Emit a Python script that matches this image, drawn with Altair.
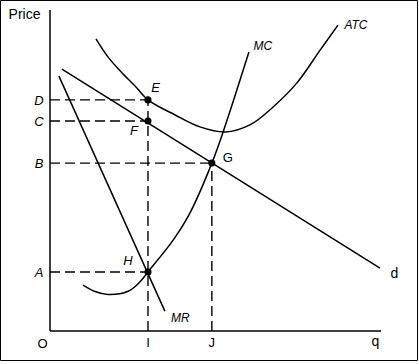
import altair as alt
import pandas as pd

# ---- data (quantity q on 0-100, price p on 0-100) ----
d_q = [3.6, 99.7]
d_p = [81.6, 19.6]
mr_q = [2.7, 34.7]
mr_p = [79.4, 6.2]
mc_q = [10.0, 13.6, 17.5, 23.6, 27.0, 29.6, 37.2, 42.3, 48.9, 52.3, 60.1]
mc_p = [14.3, 12.3, 11.4, 12.4, 15.1, 18.4, 28.3, 36.8, 52.3, 62.0, 86.9]
atc_q = [13.9, 17.5, 21.5, 25.7, 29.6, 37.8, 45.3, 52.9, 60.4, 67.4, 74.6, 81.6, 87.0]
atc_p = [91.0, 85.4, 80.7, 76.3, 72.0, 67.3, 63.6, 62.0, 64.2, 69.8, 77.3, 87.5, 95.3]

point_names = ["E", "F", "G", "H"]
point_q = [29.6, 29.6, 48.9, 29.6]
point_p = [72.0, 65.4, 52.3, 18.4]

price_names = ["D", "C", "B", "A"]
price_vals = [72.0, 65.4, 52.3, 18.4]
qty_names = ["I", "J"]
qty_vals = [29.6, 48.9]
q_max = 100
p_max = 100

FONT = "Liberation Sans"
xs = alt.Scale(domain=[0, q_max], nice=False, zero=False)
ys = alt.Scale(domain=[0, p_max], nice=False, zero=False)


def X(f="q"):
    return alt.X(f"{f}:Q", scale=xs, axis=None)


def Y(f="p"):
    return alt.Y(f"{f}:Q", scale=ys, axis=None)


def curve(qs, ps, interp="linear"):
    df = pd.DataFrame({"q": qs, "p": ps, "o": list(range(len(qs)))})
    return alt.Chart(df).mark_line(color="black", strokeWidth=1.5, interpolate=interp).encode(
        x=X(), y=Y(), order="o:Q")


def label(text, q, p, dx, dy, italic=False, size=13, align="center"):
    df = pd.DataFrame({"q": [q], "p": [p], "t": [text]})
    return alt.Chart(df).mark_text(
        font=FONT, fontSize=size, fontStyle="italic" if italic else "normal",
        align=align, baseline="alphabetic", dx=dx, dy=dy, color="black"
    ).encode(x=X(), y=Y(), text="t:N")


# axes
axes_df = pd.DataFrame({"q": [0, 0], "p": [0, 0], "q2": [0, q_max], "p2": [p_max, 0]})
axes = alt.Chart(axes_df).mark_rule(color="black", strokeWidth=1.5).encode(
    x=X(), y=Y(), x2="q2:Q", y2="p2:Q")

# dashed guide lines
seg_rows = []
for v, name in zip(price_vals, price_names):
    i = point_p.index(v)
    seg_rows.append({"q": 0, "p": v, "q2": point_q[i], "p2": v})
for v in qty_vals:
    top = max(pp for qq, pp in zip(point_q, point_p) if qq == v)
    seg_rows.append({"q": v, "p": 0, "q2": v, "p2": top})
dashes = alt.Chart(pd.DataFrame(seg_rows)).mark_rule(
    color="black", strokeWidth=1.4, strokeDash=[10, 5]).encode(
    x=X(), y=Y(), x2="q2:Q", y2="p2:Q")

dots = alt.Chart(pd.DataFrame({"q": point_q, "p": point_p})).mark_point(
    filled=True, color="black", size=50, opacity=1).encode(x=X(), y=Y())

# frame
frame = alt.Chart(pd.DataFrame({"a": [0]})).mark_rect(
    fill=None, stroke="black", strokeWidth=1).encode(
    x=alt.value(-49.5), x2=alt.value(367.5), y=alt.value(-9.5), y2=alt.value(350.5))

labels = [
    label("Price", 0, p_max, -25.5, 9, size=14),
    label("O", 0, 0, -7.5, 17),
    label("q", 98.3, 0, 0, 15, size=14),
]
for n, v in zip(price_names, price_vals):
    labels.append(label(n, 0, v, -11, 5, italic=True))
for n, v in zip(qty_names, qty_vals):
    labels.append(label(n, v, 0, 0, 16))
offs = {"E": (7.5, -8, True), "F": (-14, 14, True), "G": (16, -1, False), "H": (-20, -7, True)}
for n, q, p in zip(point_names, point_q, point_p):
    dx, dy, it = offs[n]
    labels.append(label(n, q, p, dx, dy, italic=it))
labels += [
    label("MR", mr_q[-1], mr_p[-1], 15.5, 11, italic=True, size=12),
    label("MC", mc_q[-1], mc_p[-1], 14, -2, italic=True, size=12),
    label("ATC", atc_q[-1], atc_p[-1], 18, 4, italic=True, size=12),
    label("d", d_q[-1], d_p[-1], 14.5, 10, size=14),
]

chart = alt.layer(
    frame, axes, dashes,
    curve(d_q, d_p), curve(mr_q, mr_p),
    curve(mc_q, mc_p, "catmull-rom"), curve(atc_q, atc_p, "catmull-rom"),
    dots, *labels
).properties(
    width=331, height=321,
    autosize=alt.AutoSizeParams(type="none"),
    padding={"left": 50, "top": 10, "right": 38, "bottom": 33},
    background="white",
).configure_view(stroke=None)

chart.save("out.html", embed_options={"renderer": "svg", "actions": False})
